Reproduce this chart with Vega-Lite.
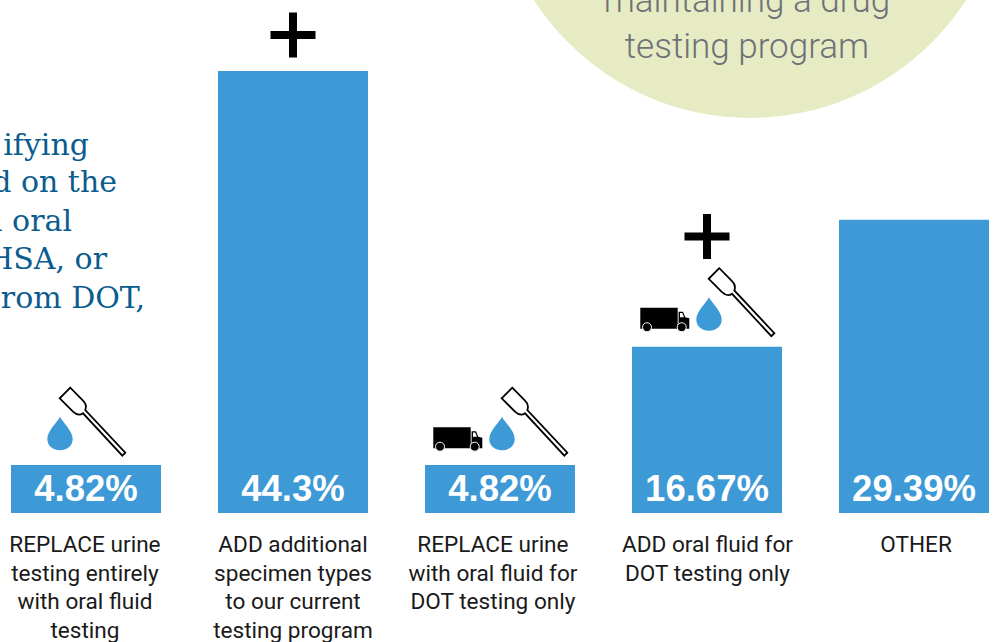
{
"$schema":"https://vega.github.io/schema/vega-lite/v6.json",
"width":993,"height":642,"padding":0,"autosize":{"type":"none"},"background":"white",
"config":{"view":{"stroke":null}},
"datasets":{
"bars":[
{"slot":1,"labelSlot":0.995,"value":4.82,"base":0,"label":"4.82%","desc":"REPLACE urine\ntesting entirely\nwith oral fluid\ntesting"},
{"slot":2,"labelSlot":2,"value":44.3,"base":0,"label":"44.3%","desc":"ADD additional\nspecimen types\nto our current\ntesting program"},
{"slot":3,"labelSlot":2.966,"value":4.82,"base":0,"label":"4.82%","desc":"REPLACE urine\nwith oral fluid for\nDOT testing only"},
{"slot":4,"labelSlot":4.002,"value":16.67,"base":0,"label":"16.67%","desc":"ADD oral fluid for\nDOT testing only"},
{"slot":5,"labelSlot":5.01,"value":29.39,"base":0,"label":"29.39%","desc":"OTHER"}],
"circle":[{"slot":4.2077,"v":65.32}],
"circleText":[{"slot":4.193,"v":50.2,"t":"maintaining a drug"},{"slot":4.193,"v":45.6,"t":"testing program"}],
"leftText":[
{"slot":1.0145,"v":35.88,"t":"ifying"},
{"slot":1.1497,"v":32.17,"t":"d on the"},
{"slot":0.9324,"v":28.26,"t":"l oral"},
{"slot":1.1014,"v":24.46,"t":"HSA, or"},
{"slot":1.285,"v":20.55,"t":"rom DOT,"}],
"plus":[{"slot":2,"v":47.91},{"slot":4,"v":27.71}],
"truck":[{"slot":2.7971,"v":7.417},{"slot":3.7971,"v":19.395}],
"wheels":[{"slot":2.7101,"v":6.645},{"slot":2.8778,"v":6.645},{"slot":3.7101,"v":18.62},{"slot":3.8778,"v":18.62}],
"drops":[{"slot":0.8744,"v":7.968},{"slot":3.0097,"v":7.968},{"slot":4.0097,"v":19.946}],
"swabs":[{"slot":1.029,"v":9.221},{"slot":3.1643,"v":9.221},{"slot":4.1643,"v":21.2}]
},
"encoding":{
"x":{"field":"slot","type":"quantitative","axis":null,"scale":{"domain":[0.58454,5.38164],"nice":false,"zero":false,"padding":0}},
"y":{"field":"v","type":"quantitative","axis":null,"scale":{"domain":[-12.93,51.418],"nice":false,"zero":false,"padding":0}}
},
"layer":[
{"data":{"name":"circle"},"mark":{"type":"point","filled":true,"shape":"circle","size":263580,"color":"#e6ebc3","opacity":1}},
{"data":{"name":"circleText"},"mark":{"type":"text","font":"Roboto","fontWeight":300,"fontSize":35,"color":"#6e7278","align":"center","baseline":"alphabetic"},"encoding":{"text":{"field":"t"}}},
{"data":{"name":"leftText"},"mark":{"type":"text","font":"DejaVu Serif","fontSize":30,"color":"#0a5c8f","align":"right","baseline":"alphabetic"},"encoding":{"text":{"field":"t"}}},
{"data":{"name":"bars"},"mark":{"type":"bar","width":150,"color":"#3d9ad6","orient":"vertical"},"encoding":{"y":{"field":"value","type":"quantitative"},"y2":{"field":"base"}}},
{"data":{"name":"bars"},"mark":{"type":"text","font":"Liberation Sans","fontWeight":"bold","fontSize":36.5,"color":"white","align":"center","baseline":"alphabetic","dy":-12},"encoding":{"y":{"field":"base","type":"quantitative"},"text":{"field":"label"}}},
{"data":{"name":"bars"},"mark":{"type":"text","font":"Roboto","fontSize":22.6,"lineBreak":"\n","lineHeight":28.7,"color":"#1a1a1a","align":"center","baseline":"alphabetic","dy":39},"encoding":{"x":{"field":"labelSlot","type":"quantitative"},"y":{"field":"base","type":"quantitative"},"text":{"field":"desc"}}},
{"data":{"name":"plus"},"mark":{"type":"point","filled":true,"size":4,"color":"black","opacity":1,"shape":"M-4,-22.5 H4 V-4 H22.5 V4 H4 V22.5 H-4 V4 H-22.5 V-4 H-4 Z"}},
{"data":{"name":"truck"},"mark":{"type":"point","filled":true,"size":4,"color":"black","opacity":1,"shape":"M-24.7,-11.7 H12.7 V9.3 H-24.7 Z M13.6,-7.7 H18 L20.3,-2.3 L24.3,-1.3 V9.3 H13.6 Z M15,-6.5 V-2.3 H19 L17.2,-6.5 Z"}},
{"data":{"name":"wheels"},"mark":{"type":"point","filled":true,"size":81,"fill":"black","stroke":"white","strokeWidth":1,"opacity":1,"shape":"circle"}},
{"data":{"name":"drops"},"mark":{"type":"point","filled":true,"size":4,"color":"#3d9ad6","opacity":1,"shape":"M0,-16.8 C2,-12 12.7,-3 12.7,5.5 C12.7,12.5 6.8,16.8 0,16.8 C-6.8,16.8 -12.7,12.5 -12.7,5.5 C-12.7,-3 -2,-12 0,-16.8 Z"}},
{"data":{"name":"swabs"},"mark":{"type":"point","filled":false,"size":4,"stroke":"black","strokeWidth":1.8,"opacity":1,"shape":"M-21.7,-33.3 L-32.3,-22.7 L-19,-9.3 C-15.5,-6 -12,-5.5 -9,-7.7 L30.3,34.7 L33.3,31.7 L-6.7,-11 C-5.5,-14 -6,-17.5 -9,-20.3 Z"}}
]
}
